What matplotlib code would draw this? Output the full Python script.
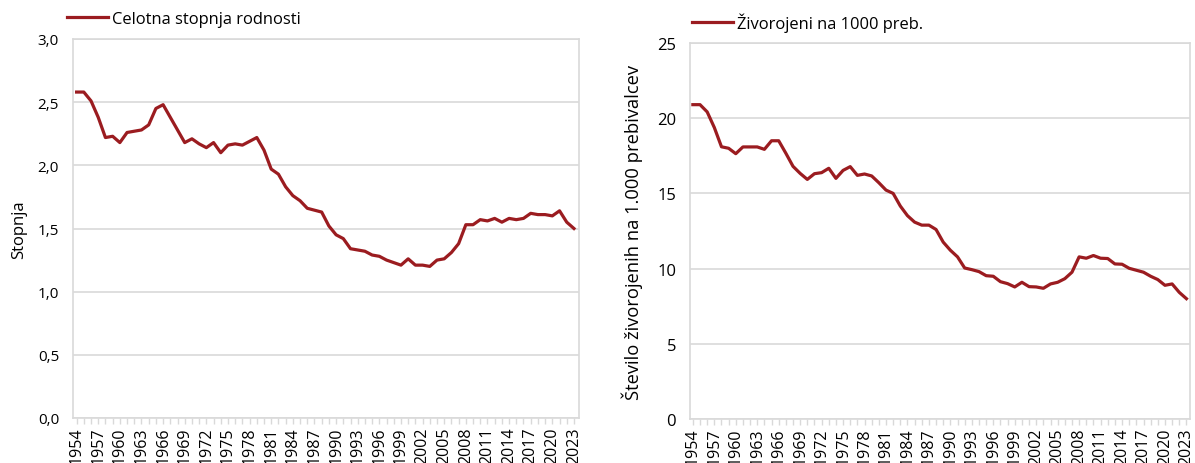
import matplotlib
matplotlib.use("Agg")
import matplotlib.pyplot as plt
from matplotlib.ticker import FuncFormatter, MultipleLocator

years = list(range(1954, 2024))

tfr = [2.58, 2.58, 2.51, 2.38, 2.22, 2.23, 2.18, 2.26, 2.27, 2.28,
       2.32, 2.45, 2.48, 2.38, 2.28, 2.18, 2.21, 2.17, 2.14, 2.18,
       2.10, 2.16, 2.17, 2.16, 2.19, 2.22, 2.12, 1.97, 1.93, 1.83,
       1.76, 1.72, 1.66, 1.645, 1.63, 1.52, 1.45, 1.42, 1.34, 1.33,
       1.32, 1.29, 1.28, 1.25, 1.23, 1.21, 1.26, 1.21, 1.21, 1.20,
       1.25, 1.26, 1.31, 1.38, 1.53, 1.53, 1.57, 1.56, 1.58, 1.55,
       1.58, 1.57, 1.58, 1.62, 1.61, 1.61, 1.60, 1.64, 1.55, 1.50]

births = [20.9, 20.9, 20.42, 19.38, 18.1, 18.0, 17.64, 18.09, 18.09, 18.09,
          17.93, 18.5, 18.5, 17.67, 16.8, 16.33, 15.93, 16.31, 16.38, 16.67,
          16.0, 16.53, 16.78, 16.2, 16.29, 16.16, 15.71, 15.22, 15.0, 14.16,
          13.52, 13.09, 12.89, 12.89, 12.6, 11.76, 11.22, 10.78, 10.04, 9.93,
          9.8, 9.53, 9.49, 9.13, 9.0, 8.78, 9.09, 8.8, 8.78, 8.69,
          8.98, 9.09, 9.33, 9.76, 10.78, 10.69, 10.87, 10.69, 10.67, 10.31,
          10.29, 10.02, 9.89, 9.76, 9.49, 9.27, 8.89, 8.98, 8.42, 8.0]

label_left = "Celotna stopnja rodnosti"
label_right = "Živorojeni na 1000 preb."
ylabel_left = "Stopnja"
ylabel_right = "Število živorojenih na 1.000 prebivalcev"
xtick_years = list(range(1954, 2024, 3))

LINE = "#9b1c20"
GRID = "#d9d9d9"
plt.rcParams['font.family'] = ['Open Sans', 'DejaVu Sans']

fig = plt.figure(figsize=(11.95, 4.64), dpi=100)
axL = fig.add_axes([73/1195, 1-419/464, (579-73)/1195, (419-40)/464])
axR = fig.add_axes([690/1195, 1-420/464, (1190-690)/1195, (420-44)/464])


def style(ax, ysize):
    for s in ax.spines.values():
        s.set_color(GRID)
        s.set_linewidth(1.2)
    ax.grid(axis='y', color=GRID, linewidth=1.2)
    ax.set_axisbelow(True)
    ax.set_xticks(xtick_years)
    ax.set_xticks(years, minor=True)
    ax.tick_params(axis='x', which='both', length=4, color=GRID, width=1,
                   labelsize=11.5, rotation=90, pad=2)
    ax.tick_params(axis='y', length=0, labelsize=ysize, pad=10)


axL.plot(years, tfr, color=LINE, linewidth=2.3, label=label_left)
style(axL, 11)
axL.set_xlim(1953.5, 2023.7)
axL.set_ylim(0, 3.0)
axL.yaxis.set_major_locator(MultipleLocator(0.5))
axL.yaxis.set_major_formatter(FuncFormatter(lambda v, p: f"{v:.1f}".replace('.', ',')))
axL.set_ylabel(ylabel_left, fontsize=12, labelpad=8)
axL.legend(loc='center left', bbox_to_anchor=(-0.012, 1.053), frameon=False,
           fontsize=11.9, handlelength=2.5, handletextpad=0.2, borderaxespad=0,
           borderpad=0)

axR.plot(years, births, color=LINE, linewidth=2.3, label=label_right)
style(axR, 12)
axR.set_xlim(1953.6, 2023.5)
axR.set_ylim(0, 25)
axR.yaxis.set_major_locator(MultipleLocator(5))
axR.set_ylabel(ylabel_right, fontsize=13.2, labelpad=10)
axR.legend(loc='center left', bbox_to_anchor=(0.004, 1.056), frameon=False,
           fontsize=11.9, handlelength=2.5, handletextpad=0.2, borderaxespad=0,
           borderpad=0)

fig.savefig("out.png", dpi=100)
